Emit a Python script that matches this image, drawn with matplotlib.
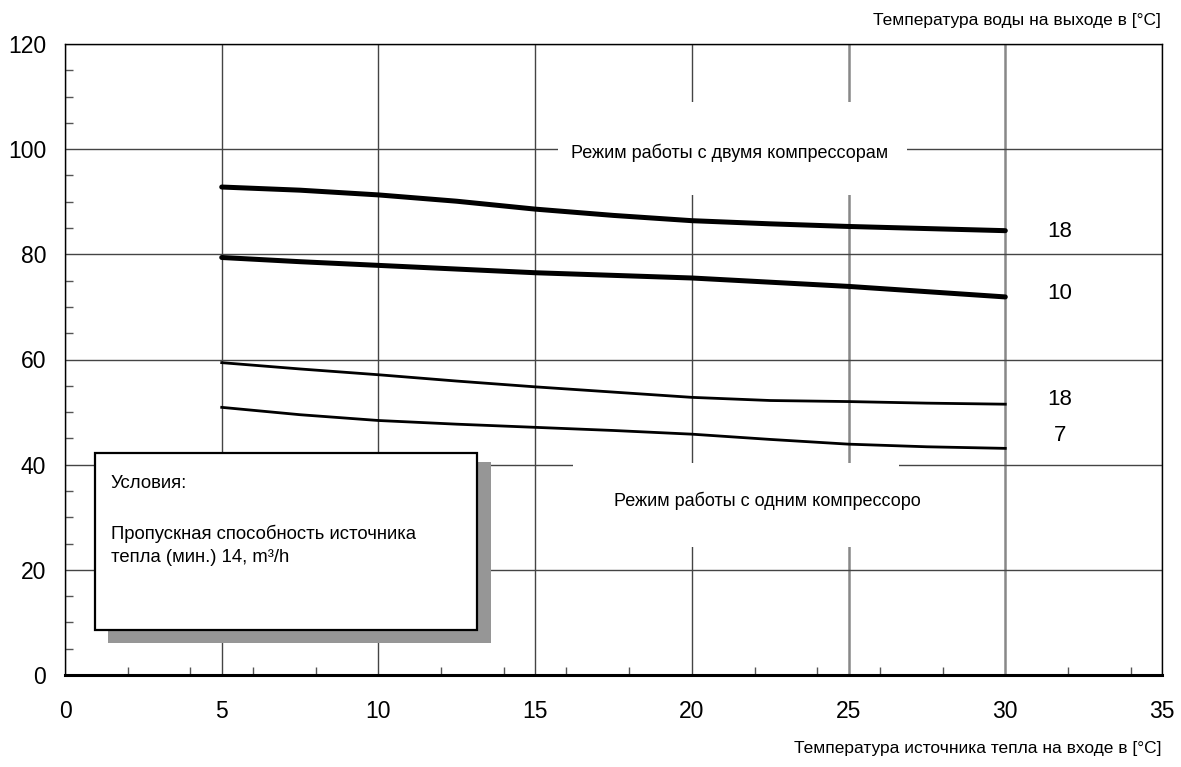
import matplotlib
matplotlib.use("Agg")
import matplotlib.pyplot as plt
from matplotlib.patches import Rectangle
from matplotlib.ticker import FixedLocator, MultipleLocator
from matplotlib.transforms import Bbox, TransformedBbox

plt.rcParams['font.family'] = ['Liberation Sans', 'DejaVu Sans']

# ---- data ----
x_pts = [5, 7.5, 10, 12.5, 15, 17.5, 20, 22.5, 25, 27.5, 30]
two_comp_18 = [92.8, 92.2, 91.3, 90.1, 88.6, 87.4, 86.4, 85.8, 85.3, 84.9, 84.5]
two_comp_10 = [79.4, 78.6, 77.9, 77.2, 76.5, 76.0, 75.5, 74.7, 73.9, 72.9, 71.9]
one_comp_18 = [59.4, 58.2, 57.1, 55.9, 54.8, 53.8, 52.8, 52.2, 52.0, 51.7, 51.5]
one_comp_7 = [50.9, 49.5, 48.4, 47.7, 47.1, 46.5, 45.8, 44.8, 43.9, 43.4, 43.1]
curve_labels = ["18", "10", "18", "7"]
curve_label_y = [84.4, 72.5, 52.3, 45.6]
x_ticks = [0, 5, 10, 15, 20, 25, 30, 35]
y_ticks = [0, 20, 40, 60, 80, 100, 120]
xlabel = "Температура источника тепла на входе в [°C]"
ylabel = "Температура воды на выходе в [°C]"
mode_two = "Режим работы с двумя компрессорами"
mode_one = "Режим работы с одним компрессором"
cond_title = "Условия:"
cond_text = "Пропускная способность источника\nтепла (мин.) 14, m³/h"

fig = plt.figure(figsize=(11.81, 7.67), dpi=100)
ax = fig.add_axes([65/1181, 92/767, 1097/1181, 631/767])
ax.set_xlim(0, 35)
ax.set_ylim(0, 120)

ax.xaxis.set_major_locator(FixedLocator(x_ticks))
ax.yaxis.set_major_locator(FixedLocator(y_ticks))
ax.xaxis.set_minor_locator(MultipleLocator(2))
ax.yaxis.set_minor_locator(MultipleLocator(5))
ax.tick_params(which='major', length=0, labelsize=16.5)
ax.tick_params(axis='x', which='major', pad=18)
ax.tick_params(axis='y', which='major', pad=13.5)
ax.tick_params(which='minor', direction='in', length=6, width=1, color='#555555')

ax.grid(True, which='major', color='#444444', linewidth=1.0)
ax.set_axisbelow(True)
fig.canvas.draw()
for val, gl in zip(x_ticks, ax.get_xgridlines()):
    if val in (25, 30):
        gl.set_color('#888888')
        gl.set_linewidth(1.8)

for s in ax.spines.values():
    s.set_color('black')
    s.set_linewidth(1.0)
ax.spines['bottom'].set_linewidth(2.2)

# curves
ax.plot(x_pts, two_comp_18, color='black', lw=3.6, solid_capstyle='round', zorder=4)
ax.plot(x_pts, two_comp_10, color='black', lw=3.6, solid_capstyle='round', zorder=4)
ax.plot(x_pts, one_comp_18, color='black', lw=2.0, zorder=4)
ax.plot(x_pts, one_comp_7, color='black', lw=2.0, zorder=4)

for lab, yy in zip(curve_labels, curve_label_y):
    ax.text(31.75, yy, lab, fontsize=16, ha='center', va='center', zorder=5)

# mode labels with white background boxes
ax.add_patch(Rectangle((15.73, 91.3), 11.14, 17.7, facecolor='white', edgecolor='none', zorder=2))
t1 = ax.text(16.15, 99.3, mode_two, fontsize=13, ha='left', va='center', zorder=3)
t1.set_clip_box(TransformedBbox(Bbox([[15.73, 91.3], [26.26, 109.0]]), ax.transData))
t1.set_clip_on(True)

ax.add_patch(Rectangle((16.21, 24.3), 10.4, 16.0, facecolor='white', edgecolor='none', zorder=2))
t2 = ax.text(17.5, 33.2, mode_one, fontsize=13, ha='left', va='center', zorder=3)
t2.set_clip_box(TransformedBbox(Bbox([[16.21, 24.3], [27.28, 40.3]]), ax.transData))
t2.set_clip_on(True)

# conditions box with shadow
ax.add_patch(Rectangle((1.37, 6.08), 12.23, 34.4, facecolor='#969696', edgecolor='none', zorder=6))
ax.add_patch(Rectangle((0.96, 8.56), 12.19, 33.64, facecolor='white', edgecolor='black', lw=1.6, zorder=7))
ax.text(1.46, 36.5, cond_title, fontsize=13.3, ha='left', va='center', zorder=8)
ax.text(1.46, 24.7, cond_text, fontsize=13.3, ha='left', va='center', linespacing=1.45, zorder=8)

# axis titles
fig.text(1161/1181, 1 - 21/767, ylabel, fontsize=12.5, ha='right', va='center')
fig.text(1161/1181, 1 - 749/767, xlabel, fontsize=12.5, ha='right', va='center')

fig.savefig("out.png", dpi=100)
